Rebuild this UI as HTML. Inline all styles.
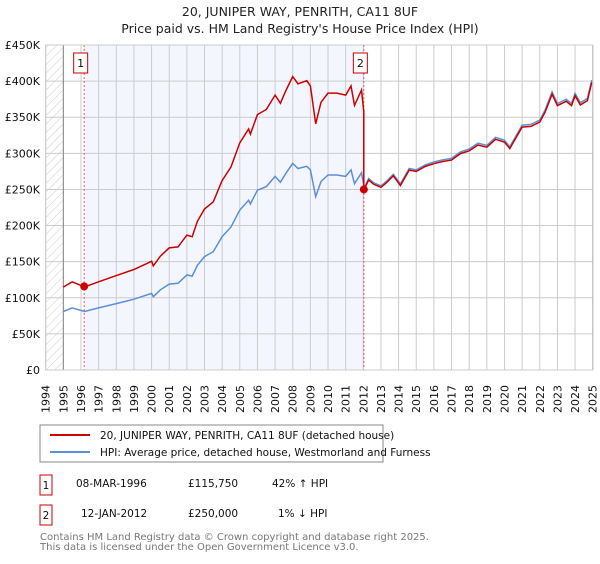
<!DOCTYPE html>
<html><head><meta charset="utf-8"><style>
body{margin:0;background:#fff;font-family:"DejaVu Sans","Liberation Sans",sans-serif;}
svg text{font-family:"DejaVu Sans","Liberation Sans",sans-serif;}
</style></head><body>
<svg id="c" width="600" height="560" xmlns="http://www.w3.org/2000/svg">
<defs><pattern id="hatch" width="6" height="6" patternUnits="userSpaceOnUse" patternTransform="rotate(45)"><line x1="0" y1="0" x2="0" y2="6" stroke="#ccc" stroke-width="1"/></pattern></defs>
<text x="300" y="16" text-anchor="middle" font-size="12.5" fill="#222">20, JUNIPER WAY, PENRITH, CA11 8UF</text>
<text x="300" y="33" text-anchor="middle" font-size="12.5" fill="#222">Price paid vs. HM Land Registry's House Price Index (HPI)</text>
<g id="plot"></g>
<rect x="40" y="425" width="343" height="37" fill="#fff" stroke="#888"/>
<line x1="50" y1="435" x2="90" y2="435" stroke="#cc0000" stroke-width="2"/>
<text x="100" y="439" font-size="10.5" fill="#111">20, JUNIPER WAY, PENRITH, CA11 8UF (detached house)</text>
<line x1="50" y1="452" x2="90" y2="452" stroke="#5b8fd6" stroke-width="2"/>
<text x="100" y="456" font-size="10.5" fill="#111">HPI: Average price, detached house, Westmorland and Furness</text>
<g font-size="10.5" fill="#111">
<rect x="40" y="475" width="12" height="20" fill="#fff" stroke="#cc0000"/>
<text x="46" y="489" text-anchor="middle">1</text>
<text x="76" y="487">08-MAR-1996</text>
<text x="188" y="487">£115,750</text>
<text x="272" y="487">42% ↑ HPI</text>
<rect x="40" y="505" width="12" height="20" fill="#fff" stroke="#cc0000"/>
<text x="46" y="519" text-anchor="middle">2</text>
<text x="81" y="517">12-JAN-2012</text>
<text x="188" y="517">£250,000</text>
<text x="278" y="517">1% ↓ HPI</text>
</g>
<text x="40" y="540" font-size="10" fill="#777">Contains HM Land Registry data © Crown copyright and database right 2025.</text>
<text x="40" y="550" font-size="10" fill="#777">This data is licensed under the Open Government Licence v3.0.</text>
</svg>
<script>
const hpiYears=[1995.0,1995.5,1996.2,1997,1998,1999,2000,2000.1,2000.5,2001,2001.5,2002,2002.3,2002.6,2003,2003.5,2004,2004.5,2005,2005.5,2005.6,2006,2006.5,2007,2007.3,2007.6,2008.0,2008.3,2008.8,2009.0,2009.3,2009.6,2010,2010.5,2011.0,2011.3,2011.5,2011.9,2012.05,2012.3,2012.6,2013.0,2013.3,2013.7,2014.1,2014.6,2015,2015.5,2016,2016.5,2017,2017.5,2018,2018.5,2019,2019.5,2020.0,2020.3,2021,2021.5,2022,2022.3,2022.7,2023,2023.5,2023.8,2024.0,2024.3,2024.7,2024.95];
const hpiValues=[80.8,86,81,86,92,98,106,101.5,111,119,120,131.5,130,145,157,164,184.6,198,221.5,235,230,249,254,268,260,272,286,279,282,277,240,261,270,270,268,277,258,273,252,265,259,255,261,271,257.5,279,277,284,288,291,293,302,306,314,311,322,318,309,339,340,346,360,385,369,375,369,383,370,376,401.5];
const saleYears=[1996.18,2012.03];
const salePrices=[115.75,250];
const saleHpi=[81.5,252];
const yTicks=[0,50,100,150,200,250,300,350,400,450];
const yTickLabels=["£0","£50K","£100K","£150K","£200K","£250K","£300K","£350K","£400K","£450K"];
const xTicks=[1994,1995,1996,1997,1998,1999,2000,2001,2002,2003,2004,2005,2006,2007,2008,2009,2010,2011,2012,2013,2014,2015,2016,2017,2018,2019,2020,2021,2022,2023,2024,2025];

const NS="http://www.w3.org/2000/svg";
const X=y=>45.7+(y-1994)*17.645;
const Y=v=>370-v*325/450;
const g=document.getElementById('plot');
function mk(t,a,p){const e=document.createElementNS(NS,t);for(const k in a)e.setAttribute(k,a[k]);(p||g).appendChild(e);return e;}
let e;
e=mk('rect',{x:X(1994),y:Y(450),width:X(2025)-X(1994),height:Y(0)-Y(450),fill:'#fff'});


e=mk('rect',{x:X(1994),y:Y(450),width:X(1995)-X(1994),height:Y(0)-Y(450),fill:'url(#hatch)'});


e=mk('rect',{x:X(saleYears[0]),y:Y(450),width:X(saleYears[1])-X(saleYears[0]),height:Y(0)-Y(450),fill:'#f3f6fe'});


yTicks.forEach((v,i)=>{
  e=mk('line',{x1:X(1994),x2:X(2025),y1:Y(v),y2:Y(v),stroke:'#ccc','stroke-width':1});
  
  
  e=mk('text',{x:40,y:Y(v)+4,'text-anchor':'end','font-size':11,fill:'#111'});
  e.textContent=yTickLabels[i];
  
  
});
xTicks.forEach(yr=>{
  e=mk('line',{x1:X(yr),x2:X(yr),y1:Y(450),y2:Y(0),stroke:'#ccc','stroke-width':1});
  
  
  e=mk('text',{x:0,y:0,transform:`translate(${X(yr)+4},413) rotate(-90)`,'font-size':11,fill:'#111'});
  e.textContent=yr;
  
  
});
e=mk('line',{x1:X(1995),x2:X(1995),y1:Y(450),y2:Y(0),stroke:'#888','stroke-width':1});


e=mk('line',{x1:X(2025),x2:X(2025),y1:Y(450),y2:Y(0),stroke:'#888','stroke-width':1});


saleYears.forEach((yr,i)=>{
  e=mk('line',{x1:X(yr),x2:X(yr),y1:Y(450),y2:Y(0),stroke:'#e06060','stroke-width':1,'stroke-dasharray':'2,2'});
  
  
});
// HPI line
let hp=hpiYears.map((yr,i)=>X(yr).toFixed(1)+','+Y(hpiValues[i]).toFixed(1)).join(' ');
e=mk('polyline',{points:hp,fill:'none',stroke:'#5b8fd6','stroke-width':1.5});


// property line: indexed from sales
let pts=[];
hpiYears.forEach((yr,i)=>{
  if(yr<saleYears[1]) pts.push([yr,hpiValues[i]*salePrices[0]/saleHpi[0]]);
});
pts.push([saleYears[1],saleHpi[1]*salePrices[0]/saleHpi[0]]);
pts.push([saleYears[1],salePrices[1]]);
hpiYears.forEach((yr,i)=>{
  if(yr>saleYears[1]) pts.push([yr,hpiValues[i]*salePrices[1]/saleHpi[1]]);
});
e=mk('polyline',{points:pts.map(p=>X(p[0]).toFixed(1)+','+Y(p[1]).toFixed(1)).join(' '),fill:'none',stroke:'#cc0000','stroke-width':1.5});


saleYears.forEach((yr,i)=>{
  e=mk('circle',{cx:X(yr),cy:Y(salePrices[i]),r:4,fill:'#cc0000'});
  
  
  const bx=X(yr)-14+(i==0?0:-1);
  e=mk('rect',{x:X(yr)-10.5,y:53,width:14,height:20,fill:'#fff',stroke:'#cc0000'});
  
  
  e=mk('text',{x:X(yr)-3.5,y:67,'text-anchor':'middle','font-size':11,fill:'#111'});
  e.textContent=String(i+1);
  
  
});
e=mk('rect',{x:X(1994),y:Y(450),width:X(2025)-X(1994),height:Y(0)-Y(450),fill:'none',stroke:'#ccc'});


</script>
</body></html>
